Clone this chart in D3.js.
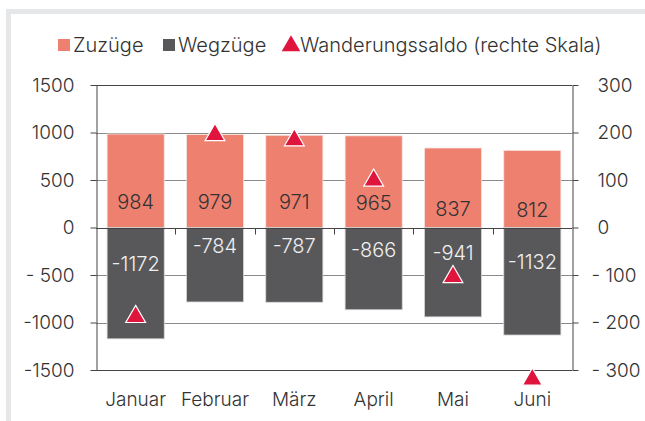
<!DOCTYPE html>
<html>
<head>
<meta charset="utf-8">
<script src="https://cdn.jsdelivr.net/npm/d3@7"></script>
<style>
  body { margin: 0; background: #fff; }
  svg { display: block; font-family: Inter, Roboto, sans-serif; font-weight: 300; }
</style>
</head>
<body>
<div class="chart"></div>
<script>
// chart size and plot box
const WIDTH = 645;
const HEIGHT = 421;
const PLOT = { left: 96, right: 572, top: 85, bottom: 370 };

// data
const months = ["Januar", "Februar", "März", "April", "Mai", "Juni"];
const zuzuege = [984, 979, 971, 965, 837, 812];
const wegzuege = [-1172, -784, -787, -866, -941, -1132];
const saldo = [-188, 195, 184, 99, -104, -320];

const leftTicks = [-1500, -1000, -500, 0, 500, 1000, 1500];
const leftTickLabels = ["-1500", "-1000", "- 500", "0", "500", "1000", "1500"];
const rightTicks = [-300, -200, -100, 0, 100, 200, 300];
const rightTickLabels = ["- 300", "- 200", "- 100", "0", "100", "200", "300"];

const legendItems = ["Zuzüge", "Wegzüge", "Wanderungssaldo (rechte Skala)"];

// colours
const C_ZU = "#ee8070";
const C_WEG = "#58585a";
const C_SALDO = "#e0153d";
const C_TEXT = "#333";

var svg = d3.select(".chart")
  .append("svg")
  .attr("width", WIDTH)
  .attr("height", HEIGHT);

// grey frame around the figure
svg.append("path")
  .attr("d", `M8.5,${HEIGHT} V11.5 H${WIDTH}`)
  .attr("fill", "none")
  .attr("stroke", "#e6e7e8")
  .attr("stroke-width", 5);

// scales
var x = d3.scaleBand()
  .domain(months)
  .range([PLOT.left, PLOT.right])
  .paddingInner(0.28)
  .paddingOuter(0.14);

var y = d3.scaleLinear().domain([-1500, 1500]).range([PLOT.bottom, PLOT.top]);
var y2 = d3.scaleLinear().domain([-300, 300]).range([PLOT.bottom, PLOT.top]);

// gridlines
svg.append("g")
  .selectAll("line")
  .data(leftTicks.filter((d) => d !== 0 && Math.abs(d) !== 1500))
  .join("line")
  .attr("x1", PLOT.left)
  .attr("x2", PLOT.right)
  .attr("y1", (d) => Math.round(y(d)) + 0.5)
  .attr("y2", (d) => Math.round(y(d)) + 0.5)
  .attr("stroke", "#8a8a8a")
  .attr("stroke-width", 1);

// bars
var bars = svg.append("g");
bars.selectAll(".zu")
  .data(zuzuege)
  .join("rect")
  .attr("class", "zu")
  .attr("x", (d, i) => x(months[i]))
  .attr("width", x.bandwidth())
  .attr("y", (d) => y(d))
  .attr("height", (d) => y(0) - y(d))
  .attr("fill", C_ZU)
  .attr("stroke", "#f6e6e2")
  .attr("stroke-width", 0.8);

bars.selectAll(".weg")
  .data(wegzuege)
  .join("rect")
  .attr("class", "weg")
  .attr("x", (d, i) => x(months[i]))
  .attr("width", x.bandwidth())
  .attr("y", y(0))
  .attr("height", (d) => y(d) - y(0))
  .attr("fill", C_WEG)
  .attr("stroke", "#d8d8d8")
  .attr("stroke-width", 0.8);

// zero line and category ticks
var zeroY = Math.round(y(0)) + 0.5;
svg.append("line")
  .attr("x1", PLOT.left)
  .attr("x2", PLOT.right)
  .attr("y1", zeroY)
  .attr("y2", zeroY)
  .attr("stroke", "#444");

svg.append("g")
  .selectAll("line")
  .data(months.slice(1))
  .join("line")
  .attr("x1", (d) => Math.round(x(d) - x.step() * x.paddingInner() / 2) + 0.5)
  .attr("x2", (d) => Math.round(x(d) - x.step() * x.paddingInner() / 2) + 0.5)
  .attr("y1", zeroY)
  .attr("y2", zeroY + 6)
  .attr("stroke", "#444");

// plot box (top / bottom)
svg.append("g")
  .selectAll("line")
  .data([1500, -1500])
  .join("line")
  .attr("x1", PLOT.left)
  .attr("x2", PLOT.right)
  .attr("y1", (d) => Math.round(y(d)) + 0.5)
  .attr("y2", (d) => Math.round(y(d)) + 0.5)
  .attr("stroke", "#444");

// left axis
svg.append("g")
  .attr("transform", `translate(${PLOT.left + 0.5},0)`)
  .call(d3.axisLeft(y).tickValues(leftTicks).tickSize(6).tickSizeOuter(0)
    .tickFormat((d, i) => leftTickLabels[i]))
  .call((g) => g.select(".domain").attr("stroke", "#444"))
  .call((g) => g.selectAll(".tick line").attr("stroke", "#444"))
  .call((g) => g.selectAll(".tick text")
    .attr("x", -22)
    .attr("fill", C_TEXT)
    .style("font-size", "19px")
    .style("font-family", "Inter, sans-serif")
    .style("font-weight", 300));

// right axis
svg.append("g")
  .attr("transform", `translate(${PLOT.right + 0.5},0)`)
  .call(d3.axisRight(y2).tickValues(rightTicks).tickSize(6).tickSizeOuter(0)
    .tickFormat((d, i) => rightTickLabels[i]))
  .call((g) => g.select(".domain").attr("stroke", "#444"))
  .call((g) => g.selectAll(".tick line").attr("stroke", "#444"))
  .call((g) => g.selectAll(".tick text")
    .attr("x", (d) => (d < 0 ? 19 : 25))
    .attr("fill", C_TEXT)
    .style("font-size", "19px")
    .style("font-family", "Inter, sans-serif")
    .style("font-weight", 300));

// month labels
svg.append("g")
  .selectAll("text")
  .data(months)
  .join("text")
  .attr("x", (d) => x(d) + x.bandwidth() / 2)
  .attr("y", 406)
  .attr("text-anchor", "middle")
  .attr("fill", C_TEXT)
  .style("font-size", "19px")
  .text((d) => d);

// value labels, shifted toward the zero line
svg.append("g")
  .selectAll("text")
  .data(zuzuege)
  .join("text")
  .attr("x", (d, i) => x(months[i]) + x.bandwidth() / 2)
  .attr("y", (d) => y(d / 2) + 21)
  .attr("dy", "0.35em")
  .attr("text-anchor", "middle")
  .attr("fill", C_TEXT)
  .style("font-size", "20px")
  .text((d) => d);

svg.append("g")
  .selectAll("text")
  .data(wegzuege)
  .join("text")
  .attr("x", (d, i) => x(months[i]) + x.bandwidth() / 2)
  .attr("y", (d) => y(d / 2) - 19)
  .attr("dy", "0.35em")
  .attr("text-anchor", "middle")
  .attr("fill", "#f0f0f0")
  .style("font-size", "20px")
  .text((d) => d);

// saldo triangles on right scale
var tri = d3.symbol().type(d3.symbolTriangle).size(170);
svg.append("g")
  .selectAll("path")
  .data(saldo)
  .join("path")
  .attr("transform", (d, i) => `translate(${x(months[i]) + x.bandwidth() / 2},${y2(d)})`)
  .attr("d", tri)
  .attr("fill", C_SALDO)
  .attr("stroke", "#fff")
  .attr("stroke-width", 1.2);

// legend
var legend = svg.append("g").style("font-size", "20px").attr("fill", C_TEXT);
var lx = [58, 163, 283];
legend.append("rect").attr("x", lx[0]).attr("y", 39).attr("width", 12).attr("height", 12).attr("fill", C_ZU);
legend.append("rect").attr("x", lx[1]).attr("y", 39).attr("width", 12).attr("height", 12).attr("fill", C_WEG);
legend.append("path")
  .attr("transform", `translate(${lx[2] + 8},46)`)
  .attr("d", d3.symbol().type(d3.symbolTriangle).size(150))
  .attr("fill", C_SALDO);
legend.selectAll("text")
  .data(legendItems)
  .join("text")
  .attr("x", (d, i) => lx[i] + (i === 2 ? 17 : 15))
  .attr("y", 52)
  .text((d) => d);
</script>
</body>
</html>
